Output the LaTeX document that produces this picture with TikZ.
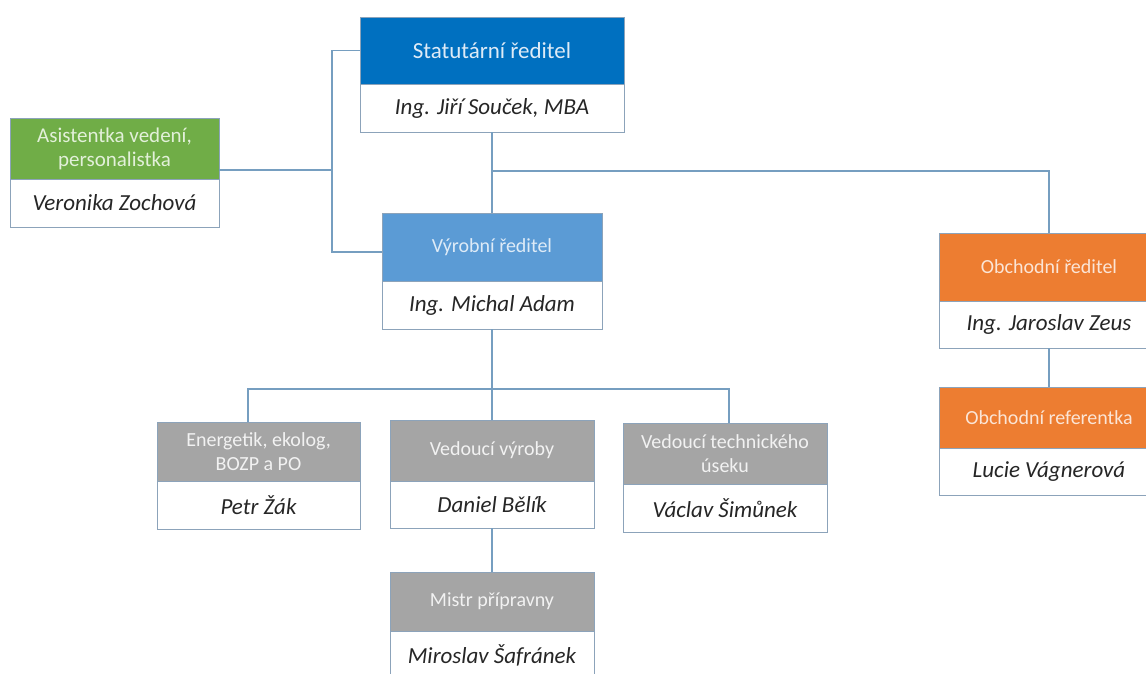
\documentclass[tikz,border=0pt]{standalone}
\usepackage{fontspec}
\setmainfont{Carlito}
\definecolor{cblue}{RGB}{0,112,192}
\definecolor{clblue}{RGB}{91,155,213}
\definecolor{cgreen}{RGB}{112,173,71}
\definecolor{corange}{RGB}{237,125,49}
\definecolor{cgray}{RGB}{165,165,165}
\definecolor{tblue}{RGB}{222,235,247}
\definecolor{tgreen}{RGB}{226,240,217}
\definecolor{torange}{RGB}{251,229,214}
\definecolor{tgray}{RGB}{242,242,242}
\definecolor{linec}{RGB}{118,158,192}
\definecolor{borderc}{RGB}{140,163,186}
\tikzset{
  hdr/.style={rectangle, anchor=north west, inner sep=0pt, outer sep=0pt, align=center,
    draw=borderc, line width=0.9pt, font=\fontsize{20}{23.5}\selectfont},
  nm/.style={rectangle, anchor=north west, inner sep=0pt, outer sep=0pt, align=center,
    fill=white, draw=borderc, line width=0.9pt, text=black!85, font=\itshape\fontsize{23}{27}\selectfont},
  conn/.style={draw=linec, line width=1.1pt}
}
\begin{document}
\begin{tikzpicture}[x=1pt,y=-1pt]
\fill[white] (0,0) rectangle (1146,673);
\useasboundingbox (0,0) rectangle (1146,673);
\clip (0,0) rectangle (1146,673);

% Statutarni reditel
\node[hdr, fill=cblue, text=tblue, minimum width=264pt, minimum height=67pt, font=\fontsize{23}{27}\selectfont] (stath) at (360,17) {Statutární ředitel};
\node[nm, minimum width=264pt, minimum height=48pt] (statn) at (360,84) {Ing. Jiří Souček, MBA};

% Asistentka
\node[hdr, fill=cgreen, text=tgreen, minimum width=209pt, minimum height=61pt, font=\fontsize{21}{24}\selectfont] (asish) at (10,118) {Asistentka vedení,\\personalistka};
\node[nm, minimum width=209pt, minimum height=48pt] (asisn) at (10,179) {Veronika Zochová};

% Vyrobni reditel
\node[hdr, fill=clblue, text=tblue, minimum width=220pt, minimum height=68pt] (vyrh) at (382,213) {Výrobní ředitel};
\node[nm, minimum width=220pt, minimum height=48pt] (vyrn) at (382,281) {Ing. Michal Adam};

% Obchodni reditel
\node[hdr, fill=corange, text=torange, minimum width=220pt, minimum height=68pt] (obchh) at (939,233) {Obchodní ředitel};
\node[nm, minimum width=220pt, minimum height=47pt] (obchn) at (939,301) {Ing. Jaroslav Zeus};

% Obchodni referentka
\node[hdr, fill=corange, text=torange, minimum width=220pt, minimum height=61pt] (refh) at (939,387) {Obchodní referentka};
\node[nm, minimum width=220pt, minimum height=47pt] (refn) at (939,448) {Lucie Vágnerová};

% Energetik
\node[hdr, fill=cgray, text=tgray, minimum width=203pt, minimum height=59pt] (enerh) at (157,422) {Energetik, ekolog,\\BOZP a PO};
\node[nm, minimum width=203pt, minimum height=48pt] (enern) at (157,481) {Petr Žák};

% Vedouci vyroby
\node[hdr, fill=cgray, text=tgray, minimum width=204pt, minimum height=61pt] (vedh) at (390,420) {Vedoucí výroby};
\node[nm, minimum width=204pt, minimum height=47pt] (vedn) at (390,481) {Daniel Bělík};

% Vedouci technickeho useku
\node[hdr, fill=cgray, text=tgray, minimum width=204pt, minimum height=61pt] (techh) at (623,423) {Vedoucí technického\\úseku};
\node[nm, minimum width=204pt, minimum height=48pt] (techn) at (623,484) {Václav Šimůnek};

% Mistr pripravny
\node[hdr, fill=cgray, text=tgray, minimum width=204pt, minimum height=59pt] (mistrh) at (390,572) {Mistr přípravny};
\node[nm, minimum width=204pt, minimum height=48pt] (mistrn) at (390,631) {Miroslav Šafránek};

% junctions
\coordinate (j2) at (332,252);
\coordinate (j3) at (332,170);
\coordinate (k1) at (492,171);
\coordinate (m1) at (248,389);
\coordinate (m2) at (729,389);

% connectors
\draw[conn] (statn.south) -- (vyrh.north);
\draw[conn] (k1) -| (obchh.north);
\draw[conn] (obchn.south) -- (refh.north);
\draw[conn] (stath.west) -| (j2) -- (j2 -| vyrh.west);
\draw[conn] (j3) -- (j3 -| asish.east);
\draw[conn] (vyrn.south) -- (vedh.north);
\draw[conn] (enerh.north -| m1) |- (m2) -- (techh.north -| m2);
\draw[conn] (vedn.south) -- (mistrh.north);
\end{tikzpicture}
\end{document}
